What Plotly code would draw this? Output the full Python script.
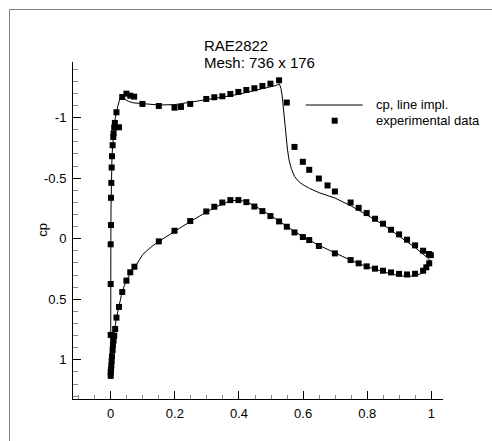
import plotly.graph_objects as go

# Experimental data (upper surface, LE -> TE)
exp_up_x = [0.000, 0.000, 0.000, 0.001, 0.001, 0.002, 0.003, 0.004, 0.006, 0.008, 0.009, 0.011,
            0.013, 0.018, 0.026, 0.036, 0.049, 0.061, 0.073, 0.099, 0.150, 0.199, 0.219, 0.248,
            0.298, 0.323, 0.348, 0.373, 0.398, 0.423, 0.448, 0.473, 0.498, 0.525, 0.549, 0.573,
            0.599, 0.619, 0.649, 0.676, 0.699, 0.748, 0.773, 0.798, 0.824, 0.849, 0.874, 0.899,
            0.924, 0.949, 0.974, 0.992, 0.998]
exp_up_cp = [0.794, 0.374, 0.046, -0.113, -0.338, -0.461, -0.588, -0.681, -0.772, -0.840, -0.870, -0.918,
             -0.956, -1.044, -0.920, -1.170, -1.198, -1.181, -1.173, -1.113, -1.096, -1.082, -1.088, -1.113,
             -1.154, -1.168, -1.176, -1.195, -1.212, -1.228, -1.242, -1.261, -1.280, -1.308, -1.124, -0.758,
             -0.635, -0.569, -0.497, -0.440, -0.390, -0.299, -0.255, -0.212, -0.165, -0.124, -0.074, -0.036,
             0.008, 0.055, 0.099, 0.126, 0.135]

# Experimental data (lower surface, LE -> TE)
exp_lo_x = [0.000, 0.000, 0.001, 0.002, 0.003, 0.004, 0.006, 0.007, 0.009, 0.011, 0.014, 0.018,
            0.026, 0.036, 0.049, 0.061, 0.074, 0.150, 0.199, 0.248, 0.298, 0.323, 0.348, 0.373,
            0.398, 0.423, 0.448, 0.473, 0.498, 0.525, 0.549, 0.573, 0.599, 0.619, 0.649, 0.699,
            0.748, 0.773, 0.798, 0.824, 0.849, 0.874, 0.899, 0.924, 0.949, 0.974, 0.984, 0.993]
exp_lo_cp = [1.132, 1.100, 1.080, 1.047, 1.010, 0.970, 0.920, 0.880, 0.841, 0.800, 0.745, 0.651,
             0.563, 0.440, 0.346, 0.277, 0.231, 0.022, -0.066, -0.146, -0.225, -0.264, -0.299, -0.319,
             -0.319, -0.302, -0.266, -0.228, -0.187, -0.143, -0.099, -0.052, -0.014, 0.011, 0.060, 0.121,
             0.176, 0.203, 0.228, 0.247, 0.264, 0.278, 0.290, 0.295, 0.289, 0.264, 0.236, 0.203]

# Computed cp (line), upper surface LE -> TE
cfd_up_x = [0, 0, 0, 0.0005, 0.001, 0.002, 0.003, 0.004, 0.006, 0.008, 0.011, 0.014, 0.018, 0.023,
            0.028, 0.033, 0.037, 0.045, 0.055, 0.07, 0.1, 0.15, 0.2, 0.25, 0.3, 0.35, 0.4, 0.45,
            0.48, 0.5, 0.515, 0.526, 0.531, 0.535, 0.539, 0.543, 0.547, 0.551, 0.556, 0.563,
            0.573, 0.585, 0.6, 0.62, 0.65, 0.7, 0.75, 0.8, 0.85, 0.9, 0.95, 0.98, 1.0]
cfd_up_cp = [1.13, 0.8, 0.4, 0.0, -0.25, -0.45, -0.58, -0.67, -0.77, -0.84, -0.92, -0.99, -1.05, -1.11,
             -1.15, -1.17, -1.175, -1.15, -1.135, -1.122, -1.112, -1.104, -1.107, -1.125, -1.148, -1.17,
             -1.193, -1.222, -1.24, -1.255, -1.265, -1.278, -1.24, -1.17, -1.08, -0.98, -0.85, -0.74,
             -0.65, -0.58, -0.515, -0.475, -0.445, -0.415, -0.38, -0.335, -0.27, -0.195, -0.115, -0.02,
             0.075, 0.14, 0.19]

# Computed cp (line), lower surface LE -> TE
cfd_lo_x = [0, 0.001, 0.002, 0.004, 0.006, 0.009, 0.013, 0.018, 0.025, 0.033, 0.042, 0.052, 0.065,
            0.08, 0.1, 0.125, 0.15, 0.2, 0.25, 0.3, 0.33, 0.36, 0.38, 0.4, 0.42, 0.45, 0.5, 0.55,
            0.6, 0.65, 0.7, 0.75, 0.8, 0.85, 0.88, 0.91, 0.93, 0.95, 0.965, 0.98, 0.99, 1.0]
cfd_lo_cp = [1.13, 1.08, 1.03, 0.96, 0.9, 0.82, 0.74, 0.65, 0.57, 0.47, 0.39, 0.33, 0.27,
             0.215, 0.13, 0.07, 0.022, -0.065, -0.145, -0.222, -0.265, -0.298, -0.315, -0.318, -0.308,
             -0.27, -0.19, -0.1, -0.015, 0.055, 0.12, 0.18, 0.232, 0.275, 0.295, 0.308, 0.31, 0.305,
             0.29, 0.26, 0.23, 0.19]

y_tickvals = [-1, -0.5, 0, 0.5, 1]
y_ticktext = ["-1", "-0.5", "0", "0.5", "1"]
x_tickvals = [0, 0.2, 0.4, 0.6, 0.8, 1]
x_ticktext = ["0", "0.2", "0.4", "0.6", "0.8", "1"]

FONT = "Liberation Sans, Arial, Helvetica, sans-serif"

cfd_x = list(reversed(cfd_up_x)) + cfd_lo_x[1:]
cfd_cp = list(reversed(cfd_up_cp)) + cfd_lo_cp[1:]

fig = go.Figure()
fig.add_trace(go.Scatter(x=cfd_x, y=cfd_cp, mode="lines", name="cp, line impl.",
                         line=dict(color="black", width=1)))
fig.add_trace(go.Scatter(x=exp_up_x + exp_lo_x, y=exp_up_cp + exp_lo_cp, mode="markers",
                         name="experimental data",
                         marker=dict(symbol="square", size=6, color="black", line=dict(width=0))))

W, H = 492, 441
L, R, T, B = 73, 49, 62, 42
pw, ph = W - L - R, H - T - B

def px(xp):
    return (xp - L) / pw

def py(yp):
    return (H - B - yp) / ph

axis_common = dict(showline=True, linecolor="black", linewidth=1, ticks="inside",
                   ticklen=8, tickcolor="black", tickwidth=1, showgrid=False, zeroline=False,
                   tickfont=dict(family=FONT, size=13, color="black"))

fig.update_layout(
    width=W, height=H,
    margin=dict(l=L, r=R, t=T, b=B),
    paper_bgcolor="white", plot_bgcolor="white",
    showlegend=False,
    font=dict(family=FONT, size=13, color="black"),
    xaxis=dict(range=[-0.1175, 1.036], tickmode="array", tickvals=x_tickvals, ticktext=x_ticktext,
               minor=dict(tick0=0, dtick=0.05, ticks="inside", ticklen=4, tickcolor="#888",
                          showgrid=False),
               ticklabelstandoff=2,
               **axis_common),
    yaxis=dict(range=[1.323, -1.459], tickmode="array", tickvals=y_tickvals, ticktext=y_ticktext,
               minor=dict(tick0=0, dtick=0.1, ticks="inside", ticklen=5, tickcolor="#888",
                          showgrid=False),
               ticklabelstandoff=3,
               **axis_common),
)

annotations = [
    dict(text="RAE2822", x=px(203), y=py(45.5), xanchor="left", yanchor="middle",
         font=dict(family=FONT, size=15, color="black"), borderpad=0),
    dict(text="Mesh: 736 x 176", x=px(203), y=py(62.5), xanchor="left", yanchor="middle",
         font=dict(family=FONT, size=15, color="black"), borderpad=0),
    dict(text="cp, line impl.", x=px(374), y=py(105), xanchor="left", yanchor="middle",
         font=dict(family=FONT, size=13, color="black")),
    dict(text="experimental data", x=px(374), y=py(120.7), xanchor="left", yanchor="middle",
         font=dict(family=FONT, size=13, color="black")),
    dict(text="cp", x=px(41.7), y=py(230), xanchor="center", yanchor="middle", textangle=-90,
         font=dict(family=FONT, size=13, color="black")),
]
for a in annotations:
    a.update(xref="paper", yref="paper", showarrow=False)
fig.update_layout(annotations=annotations)

shapes = [
    dict(type="line", xref="paper", yref="paper", x0=px(305.7), x1=px(362.7), y0=py(105), y1=py(105),
         line=dict(color="black", width=1)),
    dict(type="rect", xref="paper", yref="paper", xsizemode="pixel", ysizemode="pixel",
         xanchor=px(334.7), yanchor=py(120.7), x0=-3, x1=3, y0=-3, y1=3,
         fillcolor="black", line=dict(width=0)),
    dict(type="line", xref="paper", yref="paper", x0=px(9.5), x1=px(9.5), y0=py(9.5), y1=py(460),
         line=dict(color="#808080", width=1)),
    dict(type="line", xref="paper", yref="paper", x0=px(9.5), x1=px(520), y0=py(9.5), y1=py(9.5),
         line=dict(color="#808080", width=1)),
]
fig.update_layout(shapes=shapes)

fig.write_html("out.html")
